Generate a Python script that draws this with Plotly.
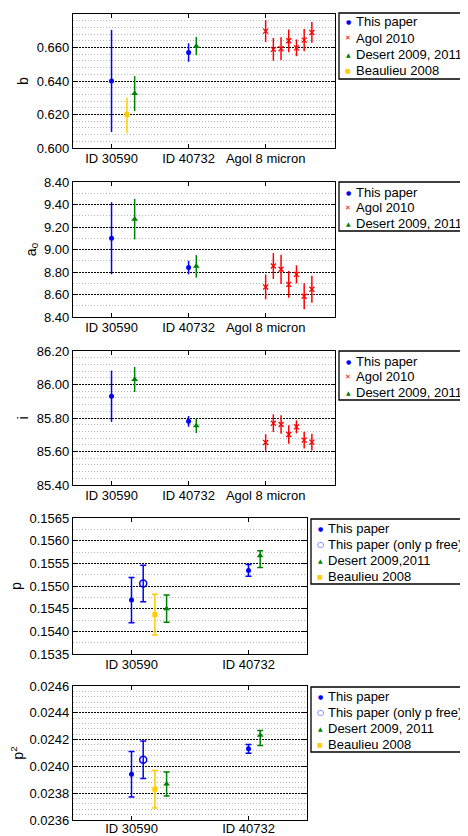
import plotly.graph_objects as go

# page body has an 8px default margin: figure is sized to fit the 468x836 window
OFF = 8
W, H = 468 - OFF, 836 - OFF
FONT = "Liberation Sans, Arial, Helvetica, sans-serif"
BLUE, RED, GREEN, GOLD = "#0000ff", "#ff0000", "#008000", "#ffcc00"

# ---------------- data ----------------
cats3 = ["ID 30590", "ID 40732", "Agol 8 micron"]
cats2 = ["ID 30590", "ID 40732"]

x_this = [1.0, 2.0]
x_free = [1.1]
x_beau = [1.2]
x_desert3 = [1.3, 2.1]
x_desert2 = [1.3, 2.1]
x_agol = [3.0, 3.1, 3.2, 3.3, 3.4, 3.5, 3.6]

# Panel 1: b
b_this = [0.640, 0.657]
b_this_err = [0.0305, 0.0055]
b_agol = [0.6698, 0.6589, 0.6593, 0.6640, 0.6598, 0.6644, 0.6690]
b_agol_err = [0.0066, 0.0068, 0.0068, 0.0068, 0.0050, 0.0066, 0.0062]
b_desert = [0.6325, 0.6608]
b_desert_err = [0.0104, 0.0054]
b_beau = [0.620]
b_beau_up = [0.010]
b_beau_dn = [0.011]

# Panel 2: a0
a_this = [9.10, 8.84]
a_this_err = [0.32, 0.06]
a_agol = [8.667, 8.853, 8.824, 8.690, 8.779, 8.584, 8.646]
a_agol_err = [0.11, 0.115, 0.13, 0.12, 0.08, 0.115, 0.12]
a_desert = [9.27, 8.85]
a_desert_err = [0.18, 0.10]
a_tickvals = [8.4, 8.6, 8.8, 9.0, 9.2, 9.4, 9.6]
a_ticktext = ["8.40", "8.60", "8.80", "9.00", "9.20", "9.40", "8.40"]

# Panel 3: i
i_this = [85.93, 85.78]
i_this_err = [0.153, 0.032]
i_agol = [85.654, 85.769, 85.761, 85.702, 85.747, 85.668, 85.656]
i_agol_err = [0.049, 0.053, 0.055, 0.055, 0.039, 0.050, 0.050]
i_desert = [86.03, 85.753]
i_desert_err = [0.075, 0.043]

# Panel 4: p
p_this = [0.15469, 0.155343]
p_this_err = [0.0005, 0.00013]
p_free = [0.155055]
p_free_err = [0.0004]
p_desert = [0.15450, 0.155667]
p_desert_up = [0.0003, 0.00011]
p_desert_dn = [0.0003, 0.00026]
p_beau = [0.15437]
p_beau_err = [0.00045]

# Panel 5: p^2
p2_this = [0.023941, 0.024131]
p2_this_err = [0.00017, 0.000032]
p2_free = [0.024049]
p2_free_err = [0.00014]
p2_desert = [0.023869, 0.024232]
p2_desert_up = [0.00009, 0.000035]
p2_desert_dn = [0.00009, 0.000076]
p2_beau = [0.02383]
p2_beau_err = [0.00014]

# legend labels
leg1 = ["This paper", "Agol 2010", "Desert 2009, 2011", "Beaulieu 2008"]
leg2 = ["This paper", "Agol 2010", "Desert 2009, 2011"]
leg3 = ["This paper", "Agol 2010", "Desert 2009, 2011"]
leg4 = ["This paper", "This paper (only p free)", "Desert 2009,2011", "Beaulieu 2008"]
leg5 = ["This paper", "This paper (only p free)", "Desert 2009, 2011", "Beaulieu 2008"]

# ---------------- figure ----------------
fig = go.Figure()


def ebar(arr, color, width, dn=None):
    d = dict(type="data", array=arr, color=color, thickness=1.5, width=width, visible=True)
    if dn is not None:
        d["symmetric"] = False
        d["arrayminus"] = dn
    return d


def add(x, y, err, color, symbol, size, ax, cap, dn=None, lw=0):
    fig.add_trace(go.Scatter(
        x=x, y=y, mode="markers",
        marker=dict(color=color, symbol=symbol, size=size,
                    line=dict(color=color, width=lw)),
        error_y=ebar(err, color, cap, dn),
        xaxis="x" + ax, yaxis="y" + ax, showlegend=False, hoverinfo="skip"))


# panel 1
add(x_this, b_this, b_this_err, BLUE, "circle", 5, "", 0)
add(x_beau, b_beau, b_beau_up, GOLD, "square", 5, "", 0, b_beau_dn)
add(x_desert3, b_desert, b_desert_err, GREEN, "triangle-up", 6, "", 0)
add(x_agol, b_agol, b_agol_err, RED, "x-thin", 5, "", 0, lw=1.3)
# panel 2
add(x_this, a_this, a_this_err, BLUE, "circle", 5, "2", 0)
add(x_desert3, a_desert, a_desert_err, GREEN, "triangle-up", 6, "2", 0)
add(x_agol, a_agol, a_agol_err, RED, "x-thin", 5, "2", 0, lw=1.3)
# panel 3
add(x_this, i_this, i_this_err, BLUE, "circle", 5, "3", 0)
add(x_desert3, i_desert, i_desert_err, GREEN, "triangle-up", 6, "3", 0)
add(x_agol, i_agol, i_agol_err, RED, "x-thin", 5, "3", 0, lw=1.3)
# panel 4
add(x_this, p_this, p_this_err, BLUE, "circle", 5, "4", 3)
add(x_free, p_free, p_free_err, BLUE, "circle-open", 7, "4", 3, lw=1.5)
add(x_beau, p_beau, p_beau_err, GOLD, "square", 5, "4", 3)
add(x_desert2, p_desert, p_desert_up, GREEN, "triangle-up", 6, "4", 3, p_desert_dn)
# panel 5
add(x_this, p2_this, p2_this_err, BLUE, "circle", 5, "5", 3)
add(x_free, p2_free, p2_free_err, BLUE, "circle-open", 7, "5", 3, lw=1.5)
add(x_beau, p2_beau, p2_beau_err, GOLD, "square", 5, "5", 3)
add(x_desert2, p2_desert, p2_desert_up, GREEN, "triangle-up", 6, "5", 3, p2_desert_dn)


# ---------------- axes ----------------
def fx(px):
    return (px - OFF) / W


def fy(py):
    return 1 - (py - OFF) / H


panels = [
    # (suffix, xdom px, ydom px, xrange, cats, yrange, dtick, minor, fmt, title, label standoff)
    ("", (73, 335), (14, 148), [0.5, 3.9], cats3, [0.6, 0.68], 0.02, 0.004, ".3f", "b", -2),
    ("2", (73, 335), (182, 317), [0.5, 3.9], cats3, [8.4, 9.6], None, 0.1, ".2f", "a<sub>0</sub>", -2),
    ("3", (73, 335), (351, 485), [0.5, 3.9], cats3, [85.4, 86.2], 0.2, 0.04, ".2f", "i", -2),
    ("4", (73, 307), (518, 654), [0.5, 2.5], cats2, [0.1535, 0.1565], 0.0005, 0.00025, ".4f", "p", -2),
    ("5", (73, 307), (686, 820), [0.5, 2.5], cats2, [0.0236, 0.0246], 0.0002, 0.00004, ".4f", "p<sup>2</sup>", -4),
]

tickfont = dict(family=FONT, size=13, color="black")
for suf, xd, yd, xr, cats, yr, dt, mn, fmt, title, tso in panels:
    xa = dict(domain=[fx(xd[0]), fx(xd[1])], range=xr, anchor="y" + suf,
              tickmode="array", tickvals=list(range(1, len(cats) + 1)), ticktext=cats,
              showgrid=False, zeroline=False, showline=True, linecolor="black",
              linewidth=1.3, mirror="ticks", ticks="inside", ticklen=4,
              tickcolor="black", tickfont=tickfont, automargin=False, fixedrange=True,
              ticklabelstandoff=tso)
    ya = dict(domain=[fy(yd[1]), fy(yd[0])], range=yr, anchor="x" + suf,
              showgrid=True, gridcolor="black", griddash="1.5px,1.5px", gridwidth=1,
              zeroline=False, showline=True, linecolor="black", linewidth=1.3,
              mirror="ticks", ticks="inside", ticklen=4, tickcolor="black",
              tickfont=tickfont, automargin=False, fixedrange=True,
              title=dict(text=title, font=dict(family=FONT, size=14, color="black"), standoff=4),
              minor=dict(dtick=mn, showgrid=True, gridcolor="#b5b5b5",
                         griddash="1px,2px", gridwidth=1, ticks=""))
    if dt is None:
        ya.update(tickmode="array", tickvals=a_tickvals, ticktext=a_ticktext)
    else:
        ya.update(dtick=dt, tick0=yr[0], tickformat=fmt)
    fig.layout["xaxis" + suf] = xa
    fig.layout["yaxis" + suf] = ya

# ---------------- legends (boxes + text) ----------------
SYM = {
    "This paper": ("●", BLUE, 6),
    "Agol 2010": ("✕", RED, 7),
    "Desert 2009, 2011": ("▲", GREEN, 6),
    "Desert 2009,2011": ("▲", GREEN, 6),
    "Beaulieu 2008": ("■", GOLD, 6),
    "This paper (only p free)": ("○", BLUE, 8),
}

legends = [
    (leg1, 339, 13, 79, 22, 16),
    (leg2, 339, 182, 231, 192, 15.7),
    (leg3, 339, 351, 400, 361, 15.7),
    (leg4, 311, 519, 584, 528, 16),
    (leg5, 311, 687, 752, 696, 16.3),
]
shapes = []
annots = []
for labels, lx, top, bot, y0, step in legends:
    shapes.append(dict(type="rect", xref="paper", yref="paper",
                       x0=fx(lx), x1=fx(467.3), y0=fy(bot), y1=fy(top),
                       line=dict(color="black", width=1.3), fillcolor="white", layer="above"))
    for k, lab in enumerate(labels):
        yy = fy(y0 + k * step)
        g, c, s = SYM[lab]
        annots.append(dict(xref="paper", yref="paper", x=fx(lx + 9), y=yy,
                           text=g, showarrow=False, xanchor="center", yanchor="middle",
                           font=dict(family="DejaVu Sans", size=s, color=c)))
        annots.append(dict(xref="paper", yref="paper", x=fx(lx + 15), y=yy,
                           text=lab, showarrow=False, xanchor="left", yanchor="middle",
                           font=dict(family=FONT, size=13, color="black")))

fig.update_layout(
    width=W, height=H, margin=dict(l=0, r=0, t=0, b=0),
    paper_bgcolor="white", plot_bgcolor="white",
    showlegend=False, shapes=shapes, annotations=annots,
    font=dict(family=FONT, size=13, color="black"),
)

fig.write_html("out.html")
